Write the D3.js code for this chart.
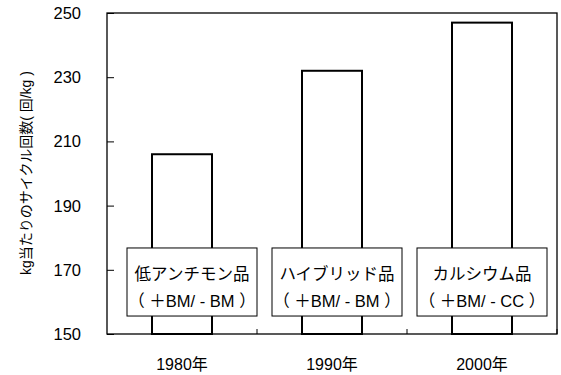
<!DOCTYPE html>
<html>
<head>
<meta charset="utf-8">
<script src="https://cdn.jsdelivr.net/npm/d3@7"></script>
<style>
  body { margin: 0; background: #fff; }
  text { font-family: "Liberation Sans", Arial, "Noto Sans CJK JP", sans-serif; fill: #000; }
</style>
</head>
<body>
<div class="chart"></div>
<script>
const categories = ["1980年", "1990年", "2000年"];
const values = [206, 232, 247];
const labelLine1 = ["低アンチモン品", "ハイブリッド品", "カルシウム品"];
const labelLine2 = ["（ ＋BM/ - BM ）", "（ ＋BM/ - BM ）", "（ ＋BM/ - CC ）"];
const yTicks = [150, 170, 190, 210, 230, 250];
const yTitle = "kg当たりのサイクル回数( 回/kg )";

const W = 561, H = 375;
const margin = { top: 13, right: 4, bottom: 41, left: 107 };
const width = W - margin.left - margin.right;
const height = H - margin.top - margin.bottom;

const svg = d3.select('.chart').append('svg')
    .attr('width', W)
    .attr('height', H);

const g = svg.append('g')
    .attr('transform', `translate(${margin.left},${margin.top})`);

const x = d3.scaleBand().domain(categories).range([0, width]).padding(0);
const y = d3.scaleLinear().domain([150, 250]).range([height, 0]);
const barW = x.bandwidth() * 0.4;

/* bars */
g.selectAll('.bar')
    .data(values).enter()
    .append('rect')
    .attr('class', 'bar')
    .attr('x', (d, i) => x(categories[i]) + x.bandwidth() / 2 - barW / 2)
    .attr('y', d => y(d))
    .attr('width', barW)
    .attr('height', d => height - y(d))
    .attr('fill', '#fff')
    .attr('stroke', '#000')
    .attr('stroke-width', 2);

/* y axis, ticks pointing inward */
const yAxis = d3.axisRight(y).tickValues(yTicks).tickSize(7).tickFormat('');
g.append('g').call(yAxis).call(s => s.select('.domain').remove())
    .selectAll('.tick line').attr('stroke', '#000');
g.selectAll('.ylab')
    .data(yTicks).enter()
    .append('text')
    .attr('x', -26)
    .attr('y', d => y(d))
    .attr('dy', '0.36em')
    .attr('text-anchor', 'end')
    .style('font-size', '16.5px')
    .text(d => d);

/* x axis: category boundary ticks pointing up */
const bounds = categories.slice(1).map(c => x(c)).concat([width]);
g.selectAll('.xtick')
    .data(bounds).enter()
    .append('line')
    .attr('x1', d => d).attr('x2', d => d)
    .attr('y1', height).attr('y2', height - 5)
    .attr('stroke', '#000');
g.selectAll('.xlab')
    .data(categories).enter()
    .append('text')
    .attr('x', d => x(d) + x.bandwidth() / 2)
    .attr('y', height + 36)
    .attr('text-anchor', 'middle')
    .style('font-size', '16px')
    .text(d => d);

/* label boxes */
const boxW = 130, boxTop = y(176.8), boxBot = y(155.6);
const boxX = (i) => x(categories[i]) + x.bandwidth() / 2 - boxW / 2 + [10, 5, 0][i];
const boxes = g.selectAll('.lbl')
    .data(categories).enter()
    .append('g')
    .attr('class', 'lbl');
boxes.append('rect')
    .attr('x', (d, i) => boxX(i))
    .attr('y', boxTop)
    .attr('width', boxW)
    .attr('height', boxBot - boxTop)
    .attr('fill', '#fff')
    .attr('stroke', '#000')
    .attr('stroke-width', 1);
boxes.append('text')
    .attr('x', (d, i) => boxX(i) + boxW / 2)
    .attr('y', boxTop + 32)
    .attr('text-anchor', 'middle')
    .style('font-size', '16.5px')
    .text((d, i) => labelLine1[i]);
boxes.append('text')
    .attr('x', (d, i) => boxX(i) + boxW / 2)
    .attr('y', boxTop + 59)
    .attr('text-anchor', 'middle')
    .style('font-size', '16.5px')
    .text((d, i) => labelLine2[i]);

/* plot frame */
g.append('rect')
    .attr('width', width)
    .attr('height', height)
    .attr('fill', 'none')
    .attr('stroke', '#000')
    .attr('stroke-width', 1.3);

/* y title */
svg.append('text')
    .attr('transform', `translate(26,173) rotate(-90)`)
    .attr('text-anchor', 'middle')
    .attr('dy', '0.35em')
    .style('font-size', '14px')
    .text(yTitle);
</script>
</body>
</html>
